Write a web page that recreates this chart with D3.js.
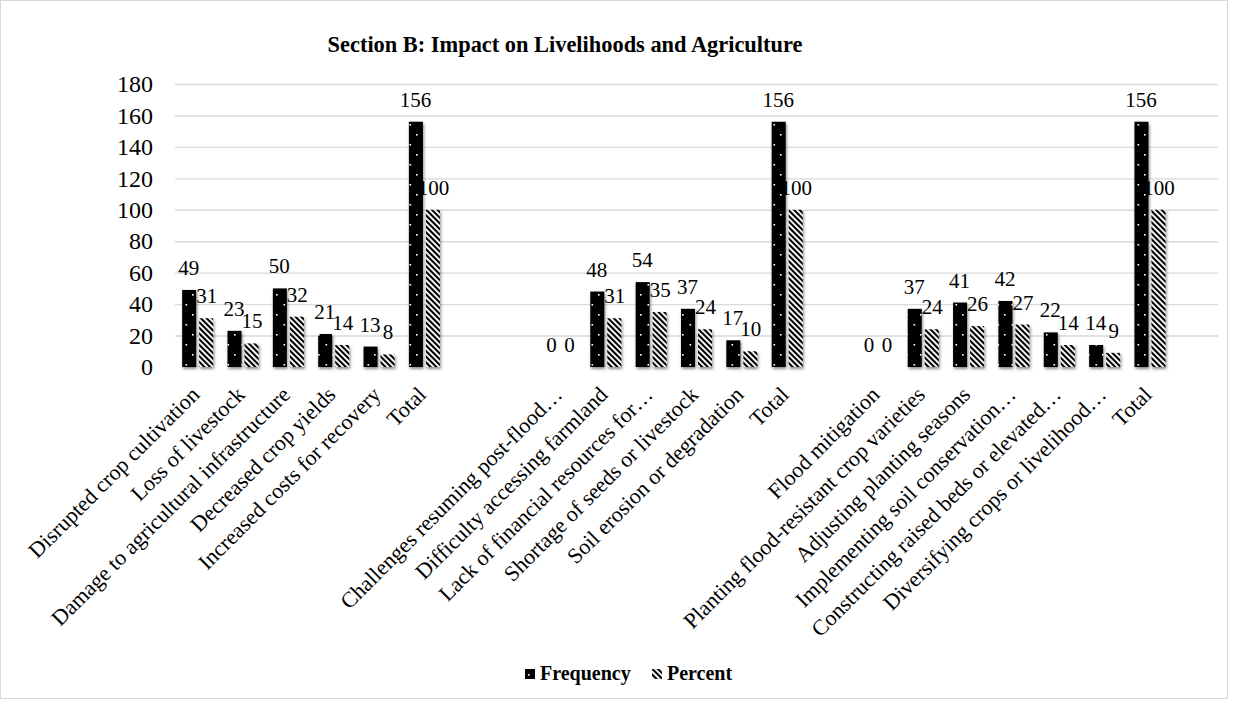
<!DOCTYPE html>
<html>
<head>
<meta charset="utf-8">
<script src="https://cdn.jsdelivr.net/npm/d3@7"></script>
<style>
  html, body { margin: 0; padding: 0; background: #fff; }
  svg { display: block; }
  text { font-family: "Liberation Serif", "Times New Roman", serif; fill: #000; }
</style>
</head>
<body>
<svg id="chart" width="1237" height="702"></svg>
<script>
// Category labels (blank entries are empty spacer rows between sections)
const categories = [
  "Disrupted crop cultivation",
  "Loss of livestock",
  "Damage to agricultural infrastructure",
  "Decreased crop yields",
  "Increased costs for recovery",
  "Total",
  "",
  "",
  "Challenges resuming post-flood…",
  "Difficulty accessing farmland",
  "Lack of financial resources for…",
  "Shortage of seeds or livestock",
  "Soil erosion or degradation",
  "Total",
  "",
  "Flood mitigation",
  "Planting flood-resistant crop varieties",
  "Adjusting planting seasons",
  "Implementing soil conservation…",
  "Constructing raised beds or elevated…",
  "Diversifying crops or livelihood…",
  "Total",
  ""
];

const frequency = [49, 23, 50, 21, 13, 156, null, null, 0, 48, 54, 37, 17, 156, null, 0, 37, 41, 42, 22, 14, 156, null];
const percent   = [31, 15, 32, 14, 8, 100, null, null, 0, 31, 35, 24, 10, 100, null, 0, 24, 26, 27, 14, 9, 100, null];

const seriesNames = ["Frequency", "Percent"];
const yTicks = [0, 20, 40, 60, 80, 100, 120, 140, 160, 180];
const titleText = "Section B: Impact on Livelihoods and Agriculture";

const serif = "'Liberation Serif', 'Times New Roman', serif";
const svg = d3.select("#chart");

// Chart frame
svg.append("rect")
  .attr("x", 0.5).attr("y", 0.5)
  .attr("width", 1227).attr("height", 698)
  .attr("fill", "#fff").attr("stroke", "#d9d9d9").attr("stroke-width", 1);

const defs = svg.append("defs");

// Dotted black fill for Frequency
const dots = defs.append("pattern")
  .attr("id", "dots").attr("patternUnits", "userSpaceOnUse")
  .attr("width", 14).attr("height", 20);
dots.append("rect").attr("width", 14).attr("height", 20).attr("fill", "#000");
dots.append("rect").attr("x", 3.5).attr("y", 4).attr("width", 1.6).attr("height", 1.6).attr("fill", "#fff");
dots.append("rect").attr("x", 10).attr("y", 14).attr("width", 1.6).attr("height", 1.6).attr("fill", "#fff");

// Diagonal stripes for Percent
const stripes = defs.append("pattern")
  .attr("id", "stripes").attr("patternUnits", "userSpaceOnUse")
  .attr("width", 4).attr("height", 4)
  .attr("patternTransform", "rotate(-45)");
stripes.append("rect").attr("width", 4).attr("height", 4).attr("fill", "#fff");
stripes.append("rect").attr("width", 2.1).attr("height", 4).attr("fill", "#000");

// Soft shadow under bars and baseline
const shadow = defs.append("filter").attr("id", "shadow")
  .attr("x", "-30%").attr("y", "-10%").attr("width", "160%").attr("height", "130%");
shadow.append("feDropShadow")
  .attr("dx", 1).attr("dy", 2).attr("stdDeviation", 1.6)
  .attr("flood-color", "#000").attr("flood-opacity", 0.45);

const plotLeft = 175, plotRight = 1218, plotTop = 84, plotBottom = 367;

const x = d3.scaleBand()
  .domain(d3.range(categories.length))
  .range([plotLeft, plotRight])
  .paddingInner(0.316)
  .paddingOuter(0.158);

const x1 = d3.scaleBand()
  .domain(seriesNames)
  .range([0, x.bandwidth()])
  .paddingInner(0.176);

const y = d3.scaleLinear().domain([0, 180]).range([plotBottom, plotTop]);

// Gridlines
svg.append("g")
  .attr("transform", `translate(${plotLeft},0)`)
  .call(d3.axisLeft(y).tickValues(yTicks.slice(1)).tickSize(-(plotRight - plotLeft)).tickFormat(""))
  .call(g => g.select(".domain").remove())
  .call(g => g.selectAll("line").attr("stroke", "#d9d9d9").attr("stroke-width", 1.4));

// Y axis labels
svg.append("g")
  .attr("transform", `translate(${plotLeft},0)`)
  .call(d3.axisLeft(y).tickValues(yTicks).tickSize(0).tickPadding(22))
  .call(g => g.select(".domain").remove())
  .call(g => g.selectAll("text")
    .style("font-family", serif)
    .style("font-size", "24px").attr("fill", "#000"));

// Baseline
svg.append("line")
  .attr("x1", plotLeft).attr("x2", plotRight)
  .attr("y1", y(0)).attr("y2", y(0))
  .attr("stroke", "#d9d9d9").attr("stroke-width", 2.2)
  .attr("filter", "url(#shadow)");

const rows = categories.map((c, i) => ({ i, c, f: frequency[i], p: percent[i] }));
const valued = rows.filter(d => d.f !== null);

const barsPct = svg.append("g").attr("filter", "url(#shadow)");
barsPct.selectAll("rect").data(valued.filter(d => d.p > 0)).join("rect")
  .attr("x", d => x(d.i) + x1("Percent"))
  .attr("y", d => y(d.p))
  .attr("width", x1.bandwidth())
  .attr("height", d => y(0) - y(d.p))
  .attr("fill", "url(#stripes)");

// Percent labels sit beneath the Frequency bars
svg.append("g").selectAll("text").data(valued).join("text")
  .attr("x", d => x(d.i) + x1("Percent") + x1.bandwidth() / 2 + 0.5)
  .attr("y", d => y(d.p) - 15)
  .attr("text-anchor", "middle")
  .style("font-size", "21px")
  .text(d => d.p);

const barsFreq = svg.append("g").attr("filter", "url(#shadow)");
barsFreq.selectAll("rect").data(valued.filter(d => d.f > 0)).join("rect")
  .attr("x", d => x(d.i) + x1("Frequency"))
  .attr("y", d => y(d.f))
  .attr("width", x1.bandwidth())
  .attr("height", d => y(0) - y(d.f))
  .attr("fill", "url(#dots)");

svg.append("g").selectAll("text").data(valued).join("text")
  .attr("x", d => x(d.i) + x1("Frequency") + x1.bandwidth() / 2 - 0.5)
  .attr("y", d => y(d.f) - 15)
  .attr("text-anchor", "middle")
  .style("font-size", "21px")
  .text(d => d.f);

// X axis category labels, rotated
const xAxis = svg.append("g")
  .attr("transform", `translate(0,${plotBottom})`)
  .call(d3.axisBottom(x).tickSize(0).tickFormat(i => categories[i]));
xAxis.select(".domain").remove();
xAxis.selectAll("text")
  .style("font-family", serif)
  .style("font-size", "22px")
  .attr("fill", "#000")
  .attr("text-anchor", "end")
  .attr("dy", null)
  .attr("y", 0)
  .attr("transform", "translate(3,29) rotate(-45)");

// Title
svg.append("text")
  .attr("x", 565).attr("y", 52)
  .attr("text-anchor", "middle")
  .style("font-size", "22.4px").style("font-weight", "bold")
  .text(titleText);

// Legend
const legend = svg.append("g").attr("transform", "translate(0,680)");
const legendItems = [
  { name: seriesNames[0], fill: "url(#dots)", x: 525 },
  { name: seriesNames[1], fill: "url(#stripes)", x: 652 }
];
legendItems.forEach(it => {
  legend.append("rect")
    .attr("x", it.x).attr("y", -11)
    .attr("width", 10).attr("height", 10)
    .attr("fill", it.fill);
  legend.append("text")
    .attr("x", it.x + 15).attr("y", 0)
    .style("font-size", "20px").style("font-weight", "bold")
    .text(it.name);
});
</script>
</body>
</html>
